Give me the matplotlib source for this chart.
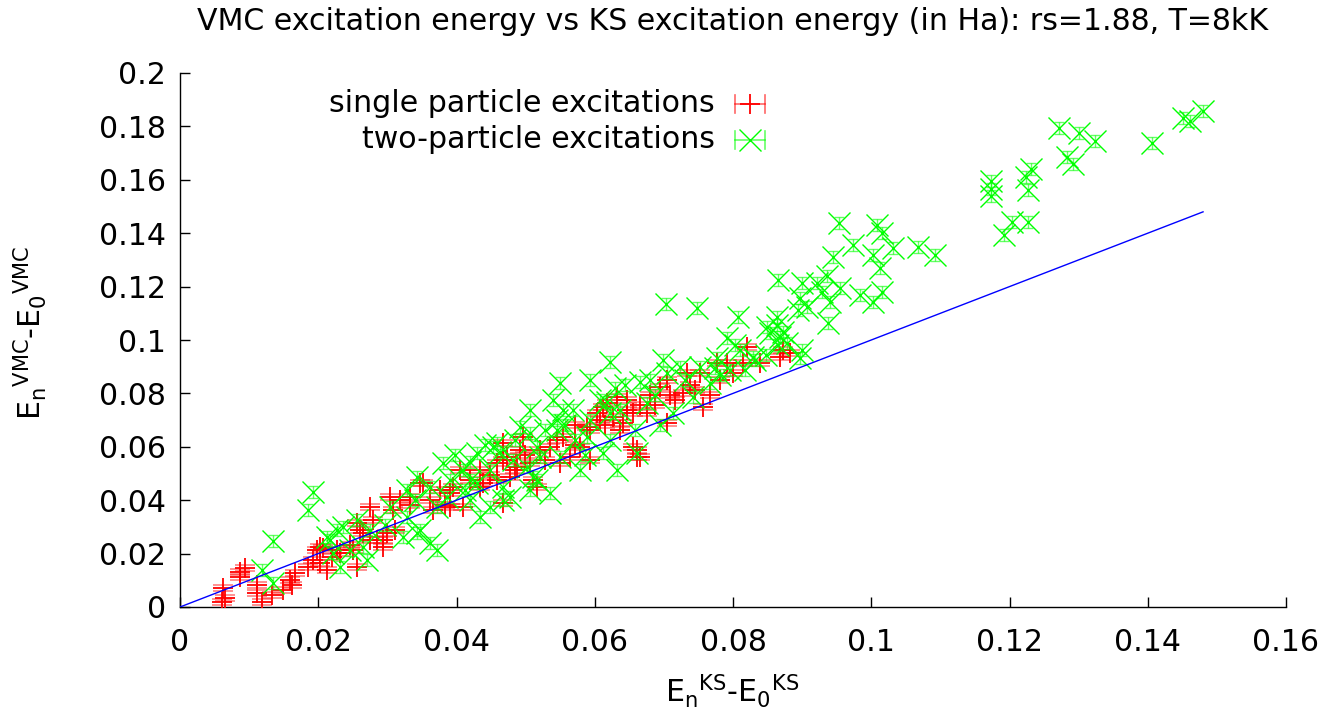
import matplotlib
matplotlib.use("Agg")
import matplotlib.pyplot as plt
import numpy as np

# ---------------- data (Ha) ----------------
single_x = [0.0062, 0.0061, 0.0065, 0.0094, 0.0087, 0.0111, 0.0111, 0.0119, 0.0133, 0.0159,
            0.0162, 0.0149, 0.0166, 0.0192, 0.0198, 0.0207, 0.0185, 0.0203, 0.0220, 0.0227,
            0.0213, 0.0256, 0.0265, 0.0279, 0.0294, 0.0294, 0.0299, 0.0308, 0.0304, 0.0250,
            0.0256, 0.0231, 0.0260, 0.0285, 0.0203, 0.0275, 0.0352, 0.0366, 0.0376, 0.0391,
            0.0405, 0.0409, 0.0434, 0.0438, 0.0459, 0.0467, 0.0459, 0.0467, 0.0492, 0.0488,
            0.0506, 0.0511, 0.0521, 0.0535, 0.0550, 0.0554, 0.0467, 0.0333, 0.0318, 0.0395,
            0.0347, 0.0391, 0.0477, 0.0632, 0.0647, 0.0612, 0.0603, 0.0647, 0.0589, 0.0641,
            0.0545, 0.0496, 0.0473, 0.0516, 0.0564, 0.0593, 0.0579, 0.0820, 0.0814, 0.0791,
            0.0800, 0.0777, 0.0752, 0.0733, 0.0705, 0.0694, 0.0618, 0.0626, 0.0655, 0.0676,
            0.0728, 0.0757, 0.0705, 0.0661, 0.0661, 0.0637, 0.0608, 0.0872, 0.0882, 0.0868,
            0.0839, 0.0655, 0.0665, 0.0434, 0.0571, 0.0680, 0.0738, 0.0716, 0.0767, 0.0087,
            0.0420, 0.0448, 0.0485, 0.0499, 0.0528, 0.0571, 0.0593, 0.0615, 0.0665, 0.0687,
            0.0709, 0.0745, 0.0781, 0.0333, 0.0362, 0.0383, 0.0275, 0.0311, 0.0246]
single_y = [0.0071, 0.0019, 0.0034, 0.0146, 0.0112, 0.0082, 0.0052, 0.0019, 0.0045, 0.0101,
            0.0082, 0.0064, 0.0127, 0.0176, 0.0213, 0.0221, 0.0150, 0.0165, 0.0187, 0.0213,
            0.0139, 0.0315, 0.0277, 0.0326, 0.0251, 0.0225, 0.0277, 0.0363, 0.0412, 0.0213,
            0.0150, 0.0202, 0.0288, 0.0251, 0.0225, 0.0375, 0.0464, 0.0363, 0.0438, 0.0427,
            0.0513, 0.0375, 0.0513, 0.0464, 0.0539, 0.0551, 0.0476, 0.0390, 0.0588, 0.0524,
            0.0539, 0.0476, 0.0588, 0.0599, 0.0539, 0.0637, 0.0614, 0.0412, 0.0401, 0.0449,
            0.0464, 0.0375, 0.0487, 0.0787, 0.0775, 0.0749, 0.0727, 0.0738, 0.0674, 0.0689,
            0.0625, 0.0637, 0.0562, 0.0449, 0.0562, 0.0551, 0.0599, 0.0974, 0.0914, 0.0914,
            0.0876, 0.0914, 0.0876, 0.0876, 0.0850, 0.0824, 0.0764, 0.0712, 0.0727, 0.0727,
            0.0801, 0.0749, 0.0689, 0.0588, 0.0562, 0.0663, 0.0700, 0.0963, 0.0951, 0.0936,
            0.0914, 0.0599, 0.0562, 0.0449, 0.0682, 0.0794, 0.0831, 0.0775, 0.0794, 0.0131,
            0.0476, 0.0494, 0.0513, 0.0569, 0.0551, 0.0607, 0.0663, 0.0682, 0.0757, 0.0757,
            0.0794, 0.0813, 0.0850, 0.0382, 0.0401, 0.0382, 0.0251, 0.0288, 0.0232]
single_err = 0.0012

two_x = [0.1480, 0.1461, 0.1451, 0.1406, 0.1324, 0.1301, 0.1272, 0.1292, 0.1283, 0.1231,
         0.1224, 0.1227, 0.1173, 0.1173, 0.1173, 0.1204, 0.1227, 0.1192, 0.1092, 0.1068,
         0.1031, 0.1016, 0.1008, 0.0953, 0.0974, 0.1003, 0.1013, 0.0945, 0.0936, 0.0865,
         0.0900, 0.0922, 0.0955, 0.0929, 0.0984, 0.1016, 0.1003, 0.0940, 0.0897, 0.0907,
         0.0894, 0.0864, 0.0937, 0.0864, 0.0872, 0.0854, 0.0900, 0.0878, 0.0807, 0.0748,
         0.0703, 0.0849, 0.0868, 0.0897, 0.0865, 0.0848, 0.0832, 0.0810, 0.0796, 0.0774,
         0.0622, 0.0699, 0.0723, 0.0705, 0.0791, 0.0803, 0.0829, 0.0777, 0.0752, 0.0665,
         0.0629, 0.0618, 0.0637, 0.0676, 0.0713, 0.0694, 0.0661, 0.0622, 0.0767, 0.0742,
         0.0550, 0.0593, 0.0540, 0.0506, 0.0569, 0.0622, 0.0492, 0.0545, 0.0589, 0.0459,
         0.0516, 0.0430, 0.0482, 0.0550, 0.0448, 0.0502, 0.0579, 0.0612, 0.0420, 0.0467,
         0.0516, 0.0535, 0.0477, 0.0632, 0.0545, 0.0506, 0.0453, 0.0380, 0.0409, 0.0511,
         0.0343, 0.0362, 0.0430, 0.0328, 0.0386, 0.0420, 0.0467, 0.0506, 0.0434, 0.0448,
         0.0372, 0.0304, 0.0328, 0.0236, 0.0275, 0.0217, 0.0246, 0.0343, 0.0362, 0.0372,
         0.0271, 0.0231, 0.0554, 0.0521, 0.0256, 0.0213, 0.0265, 0.0323, 0.0347, 0.0192,
         0.0185, 0.0135, 0.0119, 0.0135, 0.0227, 0.0221,
         0.0398, 0.0420, 0.0441, 0.0463, 0.0485, 0.0528, 0.0557, 0.0571, 0.0593, 0.0608,
         0.0644, 0.0680, 0.0687, 0.0731, 0.0781, 0.0817, 0.0297, 0.0340, 0.0391, 0.0412,
         0.0658, 0.0586]
two_y = [0.1858, 0.1820, 0.1831, 0.1738, 0.1745, 0.1775, 0.1794, 0.1659, 0.1685, 0.1640,
         0.1610, 0.1562, 0.1596, 0.1566, 0.1539, 0.1442, 0.1442, 0.1393, 0.1318, 0.1348,
         0.1345, 0.1401, 0.1431, 0.1438, 0.1356, 0.1318, 0.1270, 0.1311, 0.1240, 0.1225,
         0.1213, 0.1213, 0.1195, 0.1180, 0.1169, 0.1180, 0.1142, 0.1142, 0.1157, 0.1124,
         0.1112, 0.1086, 0.1064, 0.1056, 0.1030, 0.1026, 0.0963, 0.0989, 0.1086, 0.1120,
         0.1135, 0.1049, 0.1011, 0.0933, 0.0981, 0.0944, 0.0925, 0.0963, 0.0888, 0.0895,
         0.0918, 0.0925, 0.0899, 0.0876, 0.1007, 0.0981, 0.0936, 0.0933, 0.0899, 0.0843,
         0.0820, 0.0768, 0.0738, 0.0764, 0.0727, 0.0682, 0.0577, 0.0625, 0.0839, 0.0787,
         0.0839, 0.0850, 0.0775, 0.0738, 0.0738, 0.0727, 0.0674, 0.0663, 0.0637, 0.0614,
         0.0599, 0.0577, 0.0551, 0.0562, 0.0513, 0.0524, 0.0513, 0.0577, 0.0476, 0.0449,
         0.0476, 0.0427, 0.0412, 0.0513, 0.0700, 0.0652, 0.0599, 0.0539, 0.0513, 0.0487,
         0.0487, 0.0449, 0.0464, 0.0438, 0.0412, 0.0401, 0.0401, 0.0438, 0.0337, 0.0375,
         0.0375, 0.0375, 0.0337, 0.0300, 0.0288, 0.0251, 0.0213, 0.0277, 0.0240, 0.0213,
         0.0176, 0.0150, 0.0738, 0.0562, 0.0326, 0.0262, 0.0225, 0.0262, 0.0288, 0.0431,
         0.0363, 0.0247, 0.0139, 0.0090, 0.0288, 0.0202,
         0.0569, 0.0543, 0.0607, 0.0581, 0.0625, 0.0663, 0.0682, 0.0625, 0.0700, 0.0775,
         0.0831, 0.0850, 0.0794, 0.0850, 0.0869, 0.0888, 0.0307, 0.0401, 0.0476, 0.0438,
         0.0663, 0.0569]
two_err = 0.0022

labels = ["single particle excitations", "two-particle excitations"]
title = "VMC excitation energy vs KS excitation energy (in Ha): rs=1.88, T=8kK"
xticks = [0, 0.02, 0.04, 0.06, 0.08, 0.1, 0.12, 0.14, 0.16]
xticklabels = ["0", "0.02", "0.04", "0.06", "0.08", "0.1", "0.12", "0.14", "0.16"]
yticks = [0, 0.02, 0.04, 0.06, 0.08, 0.1, 0.12, 0.14, 0.16, 0.18, 0.2]
yticklabels = ["0", "0.02", "0.04", "0.06", "0.08", "0.1", "0.12", "0.14", "0.16", "0.18", "0.2"]

# ---------------- figure ----------------
plt.rcParams['font.family'] = ['DejaVu Sans']
plt.rcParams['mathtext.fontset'] = 'dejavusans'
FS = 21.6
W, H = 1329, 721
fig = plt.figure(figsize=(W / 100, H / 100), dpi=100)
ax = fig.add_axes([180 / W, (H - 607) / H, 1106 / W, 534 / H])

RED = '#ff0000'
GREEN = '#00ff00'
BLUE = '#0000ff'

# y = x reference line across the data range
all_x = single_x + two_x
xmax = max(all_x)
ax.plot([0, xmax], [0, xmax], color=BLUE, lw=1.0, zorder=5)

ax.errorbar(single_x, single_y, yerr=single_err, fmt='none', ecolor=RED, alpha=0.5,
            elinewidth=1.2, capsize=7, capthick=1.2, zorder=2)
ax.plot(single_x, single_y, ls='none', marker='+', ms=14.5, mew=1.3, color=RED, zorder=3)

ax.errorbar(two_x, two_y, yerr=two_err, fmt='none', ecolor=GREEN, alpha=0.6,
            elinewidth=1.0, capsize=3.6, capthick=1.0, zorder=3)
ax.plot(two_x, two_y, ls='none', marker='x', ms=16, mew=1.0, color=GREEN, zorder=4)

ax.set_xlim(0, 0.16)
ax.set_ylim(0, 0.2)
ax.set_xticks(xticks)
ax.set_xticklabels(xticklabels)
ax.set_yticks(yticks)
ax.set_yticklabels(yticklabels)
ax.tick_params(direction='in', length=7, width=1, labelsize=FS)
ax.tick_params(axis='x', pad=15)
ax.tick_params(axis='y', pad=10)
for s in ['top', 'right']:
    ax.spines[s].set_visible(False)
for s in ['left', 'bottom']:
    ax.spines[s].set_linewidth(1)

ax.set_title(title, fontsize=FS, pad=31)
ax.set_xlabel(r'$\mathregular{E_n{}^{KS}\text{-}E_0{}^{KS}}$', fontsize=FS)
ax.set_ylabel(r'$\mathregular{E_n{}^{VMC}\text{-}E_0{}^{VMC}}$', fontsize=FS)
ax.xaxis.set_label_coords((732 - 180) / 1106, (607 - 691) / 534)
ax.xaxis.label.set_va('center')
ax.yaxis.set_label_coords((30 - 180) / 1106, (607 - 333) / 534)
ax.yaxis.label.set_va('center')

# gnuplot-style key (samples drawn in axes coordinates)
tx = (715 - 180) / 1106
ys = [(607 - 104) / 534, (607 - 140) / 534]
sx0, sx1 = (735 - 180) / 1106, (765 - 180) / 1106
sxc = (sx0 + sx1) / 2
cap = 9 / 534
for lab, yk, col, mk, ms, mew in [(labels[0], ys[0], RED, '+', 14.5, 1.3),
                                 (labels[1], ys[1], GREEN, 'x', 16, 1.0)]:
    ax.text(tx, yk, lab, transform=ax.transAxes, ha='right', va='center', fontsize=FS)
    ax.plot([sx0, sx1], [yk, yk], transform=ax.transAxes, color=col, lw=1.2, alpha=0.6, clip_on=False)
    for xe in (sx0, sx1):
        ax.plot([xe, xe], [yk - cap, yk + cap], transform=ax.transAxes, color=col, lw=1.2,
                alpha=0.6, clip_on=False)
    ax.plot([sxc], [yk], transform=ax.transAxes, marker=mk, ms=ms, mew=mew, color=col,
            ls='none', clip_on=False)

fig.savefig('out.png', dpi=100)
